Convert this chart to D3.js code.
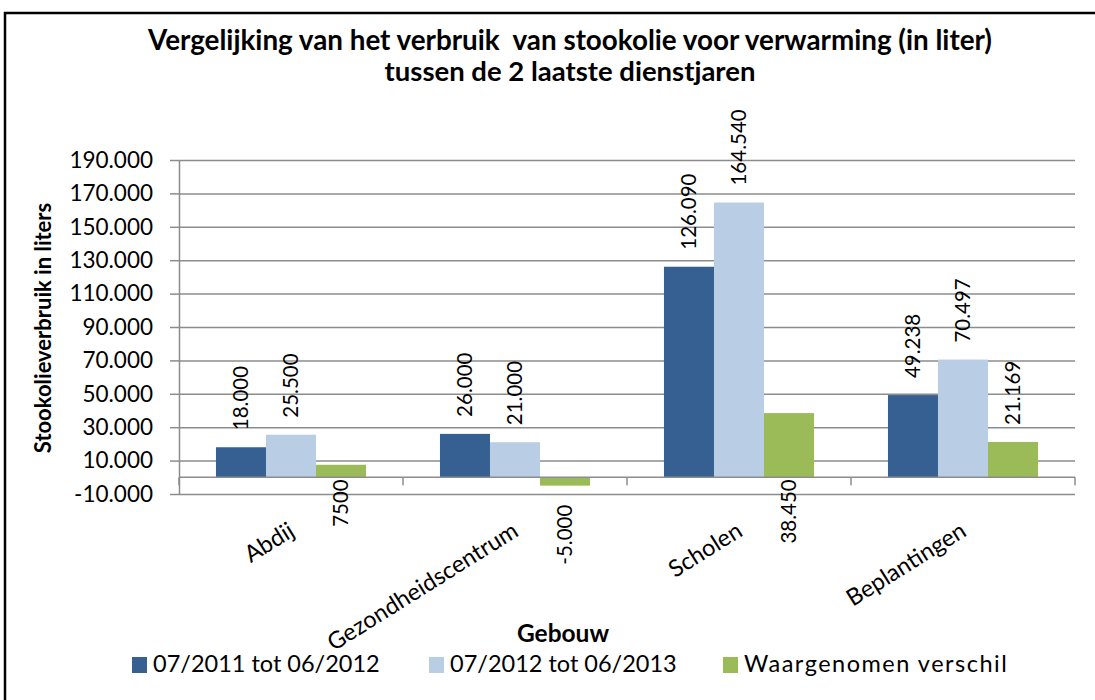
<!DOCTYPE html>
<html>
<head>
<meta charset="utf-8">
<script src="https://cdn.jsdelivr.net/npm/d3@7"></script>
<style>
  body { margin: 0; background: #fff; }
  text { font-family: Lato, "Noto Sans", sans-serif; fill: #000; }
</style>
</head>
<body>
<svg id="chart"></svg>
<script>
// Categorieën (gebouwen) en reeksen.
const gebouwen = ['Abdij', 'Gezondheidscentrum', 'Scholen', 'Beplantingen'];
const reeksen = ['07/2011 tot 06/2012', '07/2012 tot 06/2013', 'Waargenomen verschil'];

// Verbruik per reeks (liter).
const verbruik2012 = [18000, 26000, 126090, 49238];
const verbruik2013 = [25500, 21000, 164540, 70497];
const verschil = [7500, -5000, 38450, 21169];

// Labels van het verschil zoals ze op de grafiek staan.
const verschilLabels = ['7500', '-5.000', '38.450', '21.169'];
// Verschil-labels die onder de as staan.
const onderAs = ['Abdij', 'Scholen'];

// Tickwaarden van de y-as.
const yTicks = d3.range(-10000, 190001, 20000);

const width = 1095;
const height = 700;

const kleuren = d3.scaleOrdinal().domain(reeksen).range(['#376092', '#B9CDE5', '#9BBB59']);

// Nederlandse getalnotatie: punt als duizendtal-scheiding.
const nl = d3.formatLocale({decimal: ',', thousands: '.', grouping: [3], currency: ['€', ''], minus: '-'});
const fmt = nl.format(',.0f');

const svg = d3.select('#chart').attr('width', width).attr('height', height);

// Kader rond de grafiek.
svg.append('rect')
  .attr('x', 5).attr('y', 13)
  .attr('width', 1200).attr('height', 800)
  .attr('fill', 'none').attr('stroke', '#000').attr('stroke-width', 2.5);

const pLeft = 179, pRight = 1075, pTop = 160, pBottom = 494;

const y = d3.scaleLinear().domain([-10000, 190000]).range([pBottom, pTop]);
const x0 = d3.scaleBand().domain(gebouwen).range([pLeft, pRight]).paddingInner(0.33).paddingOuter(0.165);
const x1 = d3.scaleBand().domain(reeksen).range([0, x0.bandwidth()]);

// Rasterlijnen.
const grid = svg.append('g').attr('transform', `translate(${pLeft},0)`)
  .call(d3.axisLeft(y).tickValues(yTicks).tickSize(-(pRight - pLeft)).tickFormat(''));
grid.select('.domain').remove();
grid.selectAll('line').attr('stroke', '#8c8c8c').attr('stroke-width', 1.5);

// Y-as met labels.
const yAxis = svg.append('g').attr('transform', `translate(${pLeft},0)`)
  .call(d3.axisLeft(y).tickValues(yTicks).tickSize(9).tickSizeOuter(0).tickPadding(17).tickFormat(fmt));
yAxis.select('.domain').attr('stroke', '#8c8c8c').attr('stroke-width', 1.5);
yAxis.selectAll('line').attr('stroke', '#8c8c8c').attr('stroke-width', 1.5);
yAxis.selectAll('text').attr('font-size', 22.5).attr('font-family', 'Lato, sans-serif').attr('fill', '#000');

// Balkgegevens.
const rijen = gebouwen.map((g, i) => ({
  gebouw: g,
  waarden: [
    {reeks: reeksen[0], v: verbruik2012[i], label: fmt(verbruik2012[i])},
    {reeks: reeksen[1], v: verbruik2013[i], label: fmt(verbruik2013[i])},
    {reeks: reeksen[2], v: verschil[i], label: verschilLabels[i], onder: onderAs.includes(g)}
  ]
}));

const groepen = svg.append('g').selectAll('g').data(rijen).join('g')
  .attr('transform', d => `translate(${x0(d.gebouw)},0)`);

groepen.selectAll('rect').data(d => d.waarden).join('rect')
  .attr('x', d => x1(d.reeks))
  .attr('width', x1.bandwidth())
  .attr('y', d => y(Math.max(0, d.v)))
  .attr('height', d => Math.abs(y(d.v) - y(0)))
  .attr('fill', d => kleuren(d.reeks));

// X-as op nul met tickmarkeringen tussen de categorieën.
const xAxis = svg.append('g').attr('transform', `translate(0,${y(0)})`);
xAxis.append('line').attr('x1', pLeft).attr('x2', pRight)
  .attr('stroke', '#8c8c8c').attr('stroke-width', 1.5);
const grenzen = gebouwen.map(g => x0(g) - x0.step() * 0.165).concat([pRight]);
xAxis.selectAll('.grens').data(grenzen).join('line').attr('class', 'grens')
  .attr('x1', d => d).attr('x2', d => d).attr('y1', 0).attr('y2', 8)
  .attr('stroke', '#8c8c8c').attr('stroke-width', 1.5);

// Waardelabels (verticaal).
groepen.selectAll('.lbl').data(d => d.waarden).join('text').attr('class', 'lbl')
  .attr('font-family', '"DejaVu Sans", sans-serif').attr('font-size', 20.5)
  .attr('dy', '0.36em')
  .attr('text-anchor', d => (d.v < 0 || d.onder) ? 'end' : 'start')
  .attr('transform', d => {
    const cx = x1(d.reeks) + x1.bandwidth() / 2;
    let py;
    if (d.onder) py = y(0) + 2;
    else if (d.v < 0) py = y(d.v) + 19;
    else py = y(d.v) - 17;
    return `translate(${cx},${py}) rotate(-90)`;
  })
  .text(d => d.label);

// Categorielabels, schuin.
svg.append('g').selectAll('text').data(gebouwen).join('text')
  .attr('text-anchor', 'end').attr('font-size', 23.5)
  .attr('transform', g => `translate(${x0(g) + x0.bandwidth() / 2 + 5},535) rotate(-32)`)
  .text(g => g);

// Titel.
svg.append('text').attr('x', 570).attr('y', 50).attr('text-anchor', 'middle')
  .attr('font-weight', 'bold').attr('font-size', 27.8)
  .style('white-space', 'pre')
  .text('Vergelijking van het verbruik  van stookolie voor verwarming (in liter)');
svg.append('text').attr('x', 570).attr('y', 81).attr('text-anchor', 'middle')
  .attr('font-weight', 'bold').attr('font-size', 27.5)
  .text('tussen de 2 laatste dienstjaren');

// Astitels.
svg.append('text').attr('transform', 'translate(51,328) rotate(-90)').attr('text-anchor', 'middle')
  .attr('font-weight', 'bold').attr('font-size', 22)
  .text('Stookolieverbruik in liters');
svg.append('text').attr('x', 563).attr('y', 642).attr('text-anchor', 'middle')
  .attr('font-weight', 'bold').attr('font-size', 24.5)
  .text('Gebouw');

// Legenda.
const legX = [132, 429, 723];
const legenda = svg.append('g').selectAll('g').data(reeksen).join('g')
  .attr('transform', (d, i) => `translate(${legX[i]},657)`);
legenda.append('rect').attr('width', 15).attr('height', 16).attr('fill', d => kleuren(d));
legenda.append('text').attr('x', 21).attr('y', 15).attr('font-size', 23.5)
  .attr('letter-spacing', (d, i) => i === 2 ? 1.5 : 0)
  .text(d => d);
</script>
</body>
</html>
